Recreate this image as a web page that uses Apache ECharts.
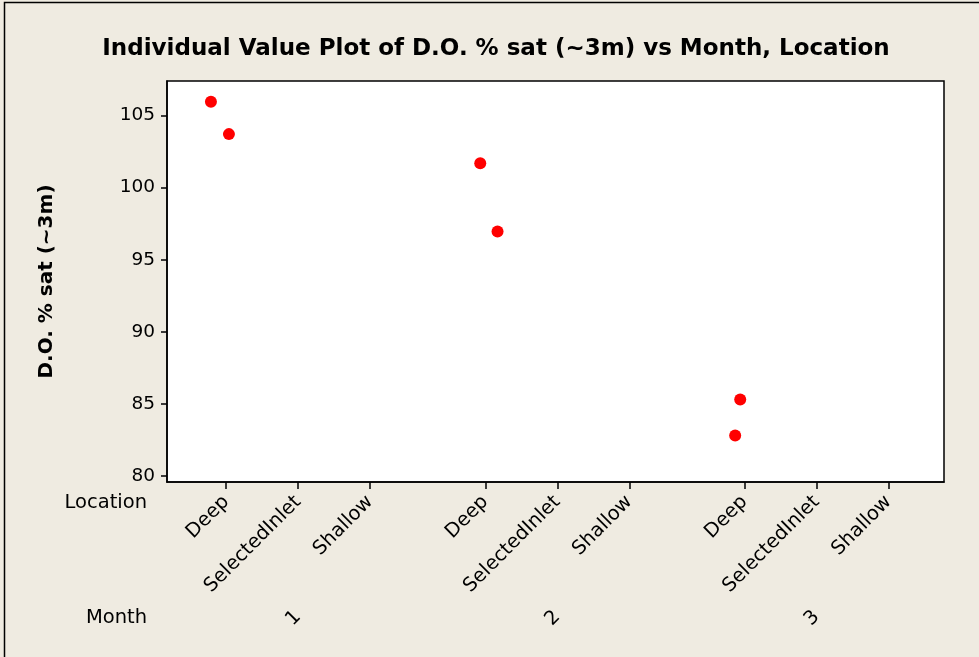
<!DOCTYPE html>
<html>
<head>
<meta charset="utf-8">
<script src="https://cdn.jsdelivr.net/npm/echarts@6/dist/echarts.min.js"></script>
<style>
html,body{margin:0;padding:0;background:#EFEBE1;}
#c{width:979px;height:657px;}
</style>
</head>
<body>
<div id="c"></div>
<script>
// Axis categories
const locations = ['Deep', 'SelectedInlet', 'Shallow'];
const months = ['1', '2', '3'];
// Axis positions of each Month/Location cell (Minitab leaves a gap between months)
const tickPositions = [1, 2, 3, 4.6, 5.6, 6.6, 8.2, 9.2, 10.2];
const tickLabels = ['Deep', 'SelectedInlet', 'Shallow', 'Deep', 'SelectedInlet', 'Shallow', 'Deep', 'SelectedInlet', 'Shallow'];
const monthPositions = [2, 5.6, 9.2];
const yTicks = [80, 85, 90, 95, 100, 105];

// Observations: D.O. % sat (~3m)
const pointCell = [0, 0, 3, 3, 6, 6];          // index into tickPositions
const pointJitter = [-0.21, 0.04, -0.07, 0.17, -0.06, -0.13];
const doValues = [105.95, 103.70, 101.68, 96.95, 85.31, 82.82];

const FONT = 'DejaVu Sans';
const chart = echarts.init(document.getElementById('c'));

function labelFor(list, labels) {
  return function (v) {
    for (let i = 0; i < list.length; i++) {
      if (Math.abs(list[i] - v) < 1e-6) return labels[i];
    }
    return '';
  };
}

const data = doValues.map((v, i) => [tickPositions[pointCell[i]] + pointJitter[i], v]);

chart.setOption({
  backgroundColor: '#EFEBE1',
  animation: false,
  title: {
    text: 'Individual Value Plot of D.O. % sat (~3m) vs Month, Location',
    left: 491, top: 33, textAlign: 'center',
    textStyle: { fontFamily: FONT, fontWeight: 'bold', fontSize: 23, color: '#000' }
  },
  graphic: [
    { type: 'rect', shape: { x: 4.5, y: 2.5, width: 1100, height: 800 },
      style: { fill: 'none', stroke: '#000', lineWidth: 1.5 }, z: 100 },
    { type: 'text', x: 147, y: 503,
      style: { text: 'Location', fontFamily: FONT, fontSize: 19.5, fill: '#000', align: 'right', verticalAlign: 'middle' } },
    { type: 'text', x: 147, y: 618,
      style: { text: 'Month', fontFamily: FONT, fontSize: 19.5, fill: '#000', align: 'right', verticalAlign: 'middle' } }
  ],
  grid: {
    left: 167, right: 35, top: 81, bottom: 175,
    show: true, backgroundColor: '#fff', borderColor: '#000', borderWidth: 1.5
  },
  xAxis: [{
    type: 'value', min: 0.18, max: 10.97, position: 'bottom',
    axisLine: { show: true, onZero: false, lineStyle: { color: '#000', width: 1.5 } },
    axisTick: { show: true, length: 7, customValues: tickPositions, lineStyle: { color: '#000', width: 1.5 } },
    axisLabel: {
      customValues: tickPositions, rotate: 45, margin: 17,
      formatter: labelFor(tickPositions, tickLabels),
      fontFamily: FONT, fontSize: 19.5, color: '#000'
    },
    splitLine: { show: false }
  }, {
    type: 'value', min: 0.18, max: 10.97, position: 'bottom', offset: 124,
    axisLine: { show: false }, axisTick: { show: false },
    axisLabel: {
      customValues: monthPositions, rotate: 45, margin: 8,
      formatter: labelFor(monthPositions, months),
      fontFamily: FONT, fontSize: 19.5, color: '#000'
    },
    splitLine: { show: false }
  }],
  yAxis: {
    type: 'value', min: 79.6, max: 107.38,
    name: 'D.O. % sat (~3m)', nameLocation: 'middle', nameGap: 110, nameRotate: 90,
    nameTextStyle: { fontFamily: FONT, fontWeight: 'bold', fontSize: 20, color: '#000' },
    axisLine: { show: true, lineStyle: { color: '#000', width: 1.5 } },
    axisTick: { show: true, length: 6, customValues: yTicks, lineStyle: { color: '#000', width: 1.5 } },
    axisLabel: { customValues: yTicks, margin: 12, fontFamily: FONT, fontSize: 18.5, color: '#000' },
    splitLine: { show: false }
  },
  series: [{
    type: 'scatter', xAxisIndex: 0, data: data,
    symbol: 'circle', symbolSize: 12,
    itemStyle: { color: '#FF0000', opacity: 1 }
  }]
});
</script>
</body>
</html>
